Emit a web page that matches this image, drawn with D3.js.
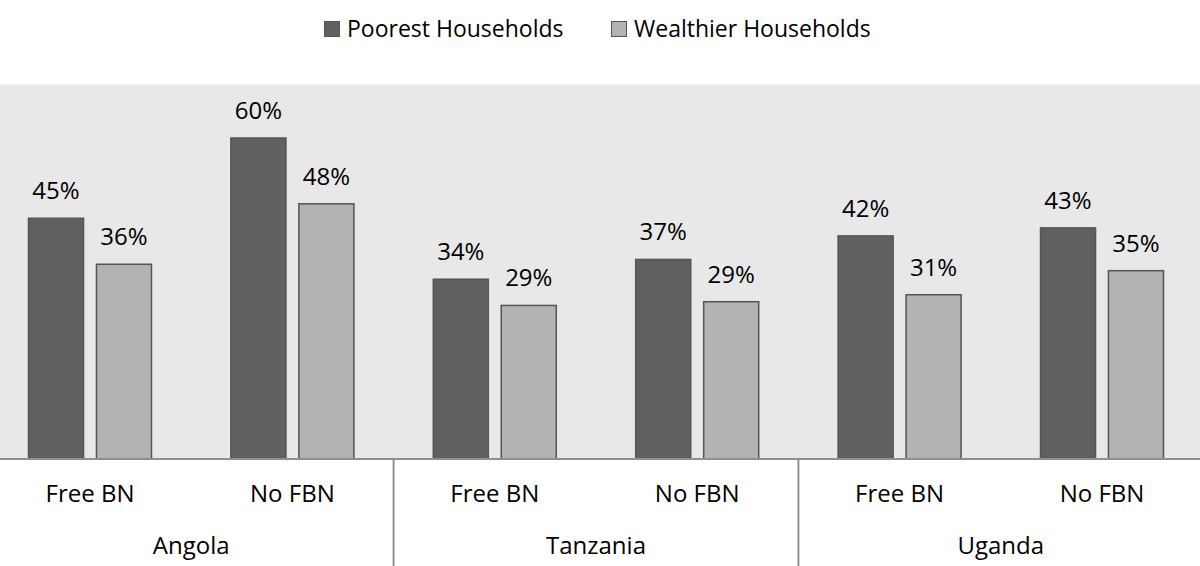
<!DOCTYPE html>
<html>
<head>
  <meta charset="utf-8">
  <script src="https://d3js.org/d3.v7.min.js"></script>
  <style>
    body { margin: 0; background: #fff; }
    text { font-family: "Open Sans", sans-serif; fill: #000; }
  </style>
</head>
<body>
<script>
  // data (shares of households)
  var countries = ["Angola", "Tanzania", "Uganda"];
  var categories = ["Free BN", "No FBN"];
  var series = ["Poorest Households", "Wealthier Households"];
  var poorest = [0.450, 0.600, 0.336, 0.373, 0.417, 0.432];
  var wealthier = [0.364, 0.477, 0.287, 0.294, 0.307, 0.352];

  var colors = ["#606060", "#b3b3b3"];

  var width = 1200, height = 566;
  var plotTop = 84.5, axisY = 459;
  var left = -11.2, right = 1203.2;

  var rows = [];
  countries.forEach(function (c, i) {
    categories.forEach(function (k, j) {
      var n = i * categories.length + j;
      rows.push({ key: c + "|" + k, country: c, cat: k, values: [poorest[n], wealthier[n]] });
    });
  });

  var svg = d3.select("body").append("svg")
      .attr("width", width)
      .attr("height", height);

  // plot area background
  svg.append("rect")
      .attr("x", 0).attr("y", plotTop)
      .attr("width", width).attr("height", axisY - plotTop)
      .attr("fill", "#e8e8e8");

  var y = d3.scaleLinear().domain([0, 0.7]).range([axisY, plotTop]);

  var x0 = d3.scaleBand()
      .domain(rows.map(function (d) { return d.key; }))
      .range([left, right]);

  var pairW = 123;
  var x1 = d3.scaleBand()
      .domain(d3.range(series.length))
      .range([0, pairW])
      .paddingInner(0.19);

  var groups = svg.selectAll("g.cat")
      .data(rows)
    .enter().append("g")
      .attr("class", "cat")
      .attr("transform", function (d) {
        return "translate(" + (x0(d.key) + (x0.bandwidth() - pairW) / 2) + ",0)";
      });

  var fmt = d3.format(".0%");

  groups.selectAll("rect")
      .data(function (d) { return d.values; })
    .enter().append("rect")
      .attr("x", function (d, i) { return x1(i); })
      .attr("y", function (d) { return y(d); })
      .attr("width", x1.bandwidth())
      .attr("height", function (d) { return axisY - y(d); })
      .attr("fill", function (d, i) { return colors[i]; })
      .attr("stroke", "#555")
      .attr("stroke-width", 1.5);

  groups.selectAll("text.val")
      .data(function (d) { return d.values; })
    .enter().append("text")
      .attr("class", "val")
      .attr("x", function (d, i) { return x1(i) + x1.bandwidth() / 2; })
      .attr("y", function (d) { return y(d) - 19; })
      .attr("text-anchor", "middle")
      .attr("font-size", 24)
      .text(function (d) { return fmt(d); });

  // axis line
  svg.append("line")
      .attr("x1", 0).attr("x2", width)
      .attr("y1", axisY).attr("y2", axisY)
      .attr("stroke", "#8f8f8f")
      .attr("stroke-width", 2);

  // category labels
  svg.selectAll("text.cat")
      .data(rows)
    .enter().append("text")
      .attr("class", "cat")
      .attr("x", function (d) { return x0(d.key) + x0.bandwidth() / 2; })
      .attr("y", 502)
      .attr("text-anchor", "middle")
      .attr("font-size", 24)
      .text(function (d) { return d.cat; });

  // country labels and separators
  var gw = x0.bandwidth() * categories.length;
  svg.selectAll("text.country")
      .data(countries)
    .enter().append("text")
      .attr("class", "country")
      .attr("x", function (d, i) { return left + gw * i + gw / 2; })
      .attr("y", 554)
      .attr("text-anchor", "middle")
      .attr("font-size", 24)
      .text(function (d) { return d; });

  svg.selectAll("line.sep")
      .data(d3.range(1, countries.length))
    .enter().append("line")
      .attr("class", "sep")
      .attr("x1", function (i) { return left + gw * i; })
      .attr("x2", function (i) { return left + gw * i; })
      .attr("y1", axisY).attr("y2", height)
      .attr("stroke", "#8f8f8f")
      .attr("stroke-width", 2);

  // legend
  var legendX = [324, 611];
  var legend = svg.selectAll("g.legend")
      .data(series)
    .enter().append("g")
      .attr("class", "legend")
      .attr("transform", function (d, i) { return "translate(" + legendX[i] + ",21)"; });

  legend.append("rect")
      .attr("width", 15).attr("height", 15)
      .attr("x", 0.5).attr("y", 0.5)
      .attr("fill", function (d, i) { return colors[i]; })
      .attr("stroke", "#555")
      .attr("stroke-width", 1);

  legend.append("text")
      .attr("x", 23)
      .attr("y", 16)
      .attr("font-size", 23)
      .text(function (d) { return d; });
</script>
</body>
</html>
